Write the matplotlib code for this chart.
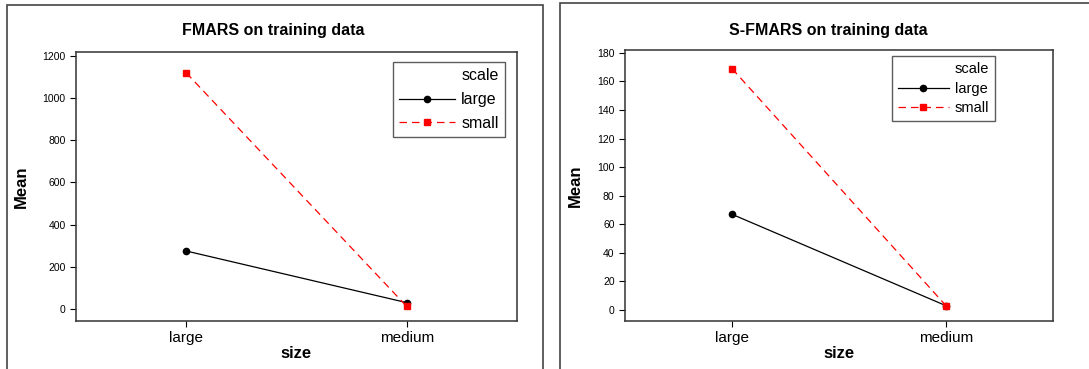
import matplotlib
matplotlib.use("Agg")
import matplotlib.pyplot as plt
from matplotlib.patches import Rectangle

# data
sizes = ["large", "medium"]
fmars_large = [275, 30]
fmars_small = [1120, 12]
sfmars_large = [67, 3]
sfmars_small = [169, 3]

titles = ["FMARS on training data", "S-FMARS on training data"]
plt.rcParams["font.family"] = ["Liberation Sans", "DejaVu Sans"]

fig = plt.figure(figsize=(10.89, 3.69), dpi=100)
W, H = 1089, 369


def px_axes(x0, y0, x1, y1):
    return fig.add_axes([x0 / W, 1 - y1 / H, (x1 - x0) / W, (y1 - y0) / H])


# panel frames
fig.patches.append(Rectangle((7 / W, -0.1), (543 - 7) / W, 1.1 - 5 / H,
                             transform=fig.transFigure, fill=False,
                             edgecolor="#444444", lw=1.2))
fig.patches.append(Rectangle((560 / W, -0.1), 0.5, 1.1 - 3 / H,
                             transform=fig.transFigure, fill=False,
                             edgecolor="#444444", lw=1.2))

ax1 = px_axes(76, 52, 517, 321)
ax2 = px_axes(625, 50, 1053, 321)

panels = [
    (ax1, fmars_large, fmars_small, (-57, 1219), range(0, 1201, 200),
     (505, 62), 273, 11.5, 0.55),
    (ax2, sfmars_large, sfmars_small, (-7.7, 182), range(0, 181, 20),
     (995, 56), 828, 10.5, 0.4),
]

x = list(range(len(sizes)))
for i, (ax, lg, sm, ylim, yt, lpos, tx, lfs, lsp) in enumerate(panels):
    ax.plot(x, lg, color="black", lw=0.9, marker="o", ms=4.5, label="large")
    ax.plot(x, sm, color="red", lw=0.9, ls=(0, (6, 4)), marker="s", ms=5,
            label="small")
    ax.set_xlim(-0.5, 1.5)
    ax.set_ylim(*ylim)
    ax.set_yticks(list(yt))
    ax.set_xticks(x)
    ax.set_xticklabels(sizes, fontsize=11)
    ax.tick_params(axis="y", labelsize=7.5, length=4, width=0.8)
    ax.tick_params(axis="x", length=4, width=0.8, pad=3)
    for s in ax.spines.values():
        s.set_linewidth(1.1)
        s.set_color("#333333")
    ax.set_xlabel("size", fontsize=12, fontweight="bold", labelpad=1)
    ax.set_ylabel("Mean", fontsize=12, fontweight="bold", labelpad=10)
    fig.text(tx / W, 1 - 31 / H, titles[i], ha="center", va="center",
             fontsize=11.5, fontweight="bold")
    leg = ax.legend(title="scale", loc="upper right", fontsize=lfs,
                    title_fontsize=lfs, handlelength=3.5, handletextpad=0.4,
                    borderpad=0.4, labelspacing=lsp, frameon=True,
                    fancybox=False, alignment="right",
                    bbox_to_anchor=(lpos[0] / W, 1 - lpos[1] / H),
                    bbox_transform=fig.transFigure, borderaxespad=0)
    leg.get_frame().set_edgecolor("#333333")
    leg.get_frame().set_linewidth(1.0)

fig.savefig("out.png", dpi=100)
